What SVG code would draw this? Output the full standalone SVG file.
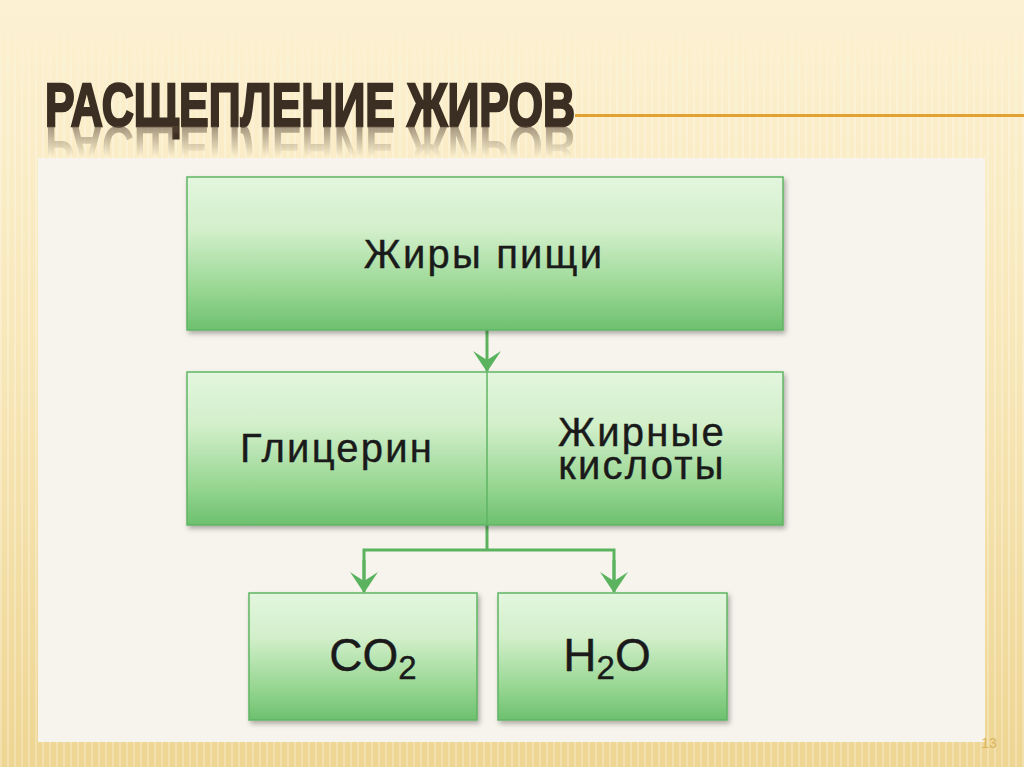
<svg xmlns="http://www.w3.org/2000/svg" width="1024" height="767" viewBox="0 0 1024 767">
<defs>
<linearGradient id="bg" x1="0" y1="0" x2="0" y2="1">
<stop offset="0" stop-color="#fcf1d2"/>
<stop offset="0.5" stop-color="#f7e6b6"/>
<stop offset="1" stop-color="#eed592"/>
</linearGradient>
<pattern id="stripes" width="7" height="10" patternUnits="userSpaceOnUse">
<rect x="0" y="0" width="2" height="10" fill="#ffffff" opacity="0.25"/>
</pattern>
<linearGradient id="stripeFade" x1="0" y1="0" x2="0" y2="1">
<stop offset="0" stop-color="#fff" stop-opacity="0"/>
<stop offset="0.15" stop-color="#fff" stop-opacity="1"/>
<stop offset="1" stop-color="#fff" stop-opacity="1"/>
</linearGradient>
<mask id="sm"><rect x="0" y="0" width="1024" height="767" fill="url(#stripeFade)"/></mask>
<linearGradient id="box" x1="0" y1="0" x2="0" y2="1">
<stop offset="0" stop-color="#e3f6de"/>
<stop offset="0.35" stop-color="#d2efca"/>
<stop offset="0.75" stop-color="#96d691"/>
<stop offset="1" stop-color="#6dc06f"/>
</linearGradient>
<linearGradient id="refl" x1="0" y1="0" x2="0" y2="1">
<stop offset="0" stop-color="#fff" stop-opacity="0.55"/>
<stop offset="1" stop-color="#fff" stop-opacity="0"/>
</linearGradient>
<mask id="rm"><rect x="0" y="126" width="600" height="30" fill="url(#refl)"/></mask>
<filter id="sh" x="-5%" y="-5%" width="110%" height="115%">
<feDropShadow dx="2" dy="3" stdDeviation="2.5" flood-color="#000" flood-opacity="0.3"/>
</filter>
<marker id="ah2" viewBox="0 0 30 26" refX="15" refY="25" markerWidth="30" markerHeight="26" markerUnits="userSpaceOnUse" orient="0">
<path d="M1,5 L15,14 L29,5 L15,26 Z" fill="#5cb35f"/>
</marker>
</defs>
<style>
.lbl{font-family:"Liberation Sans",Arial,sans-serif;font-size:40px;letter-spacing:2.2px;fill:#1a1a1a;stroke:#1a1a1a;stroke-width:0.4;text-anchor:middle}
.nb{fill:url(#box);stroke:#5fb563;stroke-width:1.5;filter:url(#sh)}
.con{stroke:#5cb35f;stroke-width:3;fill:none}
.ttl{font-family:"Liberation Sans",Arial,sans-serif;font-weight:bold;font-size:62px}
</style>
<rect x="0" y="0" width="1024" height="767" fill="url(#bg)"/>
<rect x="0" y="0" width="1024" height="767" fill="url(#stripes)" mask="url(#sm)"/>
<g id="title">
<text class="ttl" x="45" y="126" textLength="530" lengthAdjust="spacingAndGlyphs" fill="#3b2e22" stroke="#3b2e22" stroke-width="2.5">РАСЩЕПЛЕНИЕ ЖИРОВ</text>
<g mask="url(#rm)">
<text class="ttl" x="45" y="-126" transform="scale(1,-1)" textLength="530" lengthAdjust="spacingAndGlyphs" fill="#5a4a3a" aria-hidden="true">РАСЩЕПЛЕНИЕ ЖИРОВ</text>
</g>
<line x1="575" y1="115.5" x2="1024" y2="115.5" stroke="#e2a233" stroke-width="3"/>
</g>
<rect x="38" y="158" width="947" height="584" fill="#f6f4ec"/>
<g id="connectors">
<line class="con" x1="487" y1="330" x2="487" y2="371" marker-end="url(#ah2)"/>
<polyline class="con" points="487,525 487,550"/>
<polyline class="con" points="364,585 364,550 614,550 614,585"/>
<line class="con" x1="364" y1="560" x2="364" y2="592" marker-end="url(#ah2)"/>
<line class="con" x1="614" y1="560" x2="614" y2="592" marker-end="url(#ah2)"/>
</g>
<g id="node-fats">
<rect class="nb" x="187" y="177" width="596" height="153"/>
<text class="lbl" x="484" y="268">Жиры пищи</text>
</g>
<g id="node-split">
<rect class="nb" x="187" y="372" width="596" height="153"/>
<line x1="487" y1="372" x2="487" y2="525" stroke="#5fb563" stroke-width="1.5"/>
<text class="lbl" x="337" y="462">Глицерин</text>
<text class="lbl" x="642" y="446">Жирные</text>
<text class="lbl" x="642" y="479">кислоты</text>
</g>
<g id="node-co2">
<rect class="nb" x="249" y="593" width="228" height="127"/>
<text class="lbl" x="373" y="671" style="font-size:46px;letter-spacing:0">CO<tspan style="font-size:33px" dy="8">2</tspan></text>
</g>
<g id="node-h2o">
<rect class="nb" x="498" y="593" width="229" height="127"/>
<text class="lbl" x="607" y="671" style="font-size:46px;letter-spacing:0">H<tspan style="font-size:33px" dy="8">2</tspan><tspan dy="-8">O</tspan></text>
</g>
<text x="989" y="748" font-family="Liberation Sans,Arial,sans-serif" font-size="14" fill="#d9b45c" text-anchor="middle">13</text>
</svg>
